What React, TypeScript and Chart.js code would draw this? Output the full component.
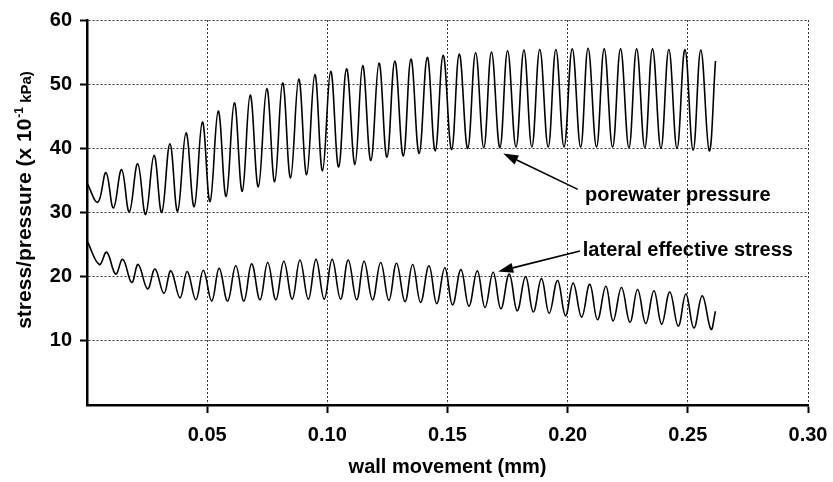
import React, { useEffect, useRef } from "react";
import { Chart, registerables } from "chart.js";

Chart.register(...registerables);

// wall movement (mm) at each turning point of the porewater pressure trace
const porewaterX = [
  0.0, 0.0045, 0.0079, 0.011, 0.0144, 0.0176, 0.0211, 0.0244, 0.0279, 0.0311,
  0.0345, 0.0377, 0.0412, 0.0446, 0.048, 0.0512, 0.0546, 0.0579, 0.0613, 0.0646,
  0.0679, 0.0713, 0.0748, 0.0781, 0.0814, 0.0847, 0.0881, 0.0914, 0.0948, 0.098,
  0.1014, 0.1047, 0.108, 0.1115, 0.1147, 0.1181, 0.1215, 0.1248, 0.1281, 0.1316,
  0.1348, 0.1382, 0.1416, 0.1449, 0.1482, 0.1517, 0.1549, 0.1584, 0.1617, 0.1651,
  0.1683, 0.1718, 0.175, 0.1785, 0.1818, 0.1851, 0.1884, 0.1919, 0.1951, 0.1985,
  0.2019, 0.2054, 0.2085, 0.212, 0.2152, 0.2187, 0.222, 0.2255, 0.2287, 0.2321,
  0.2353, 0.2388, 0.2421, 0.2455, 0.2488, 0.2522, 0.2554, 0.2589, 0.2615,
];
// porewater pressure (x 10^-1 kPa) at those points
const porewaterY = [
  34.6, 31.6, 36.2, 30.7, 36.7, 30.1, 37.6, 29.7, 38.9, 30.0,
  40.7, 30.2, 42.4, 30.9, 44.1, 31.7, 45.8, 32.5, 47.1, 33.3,
  48.3, 34.0, 49.3, 34.8, 50.2, 35.4, 50.8, 35.9, 51.5, 36.5,
  52.0, 37.1, 52.4, 37.5, 52.9, 38.1, 53.3, 38.6, 53.6, 38.8,
  53.9, 39.2, 54.2, 39.6, 54.5, 39.8, 54.7, 40.0, 54.9, 40.1,
  55.0, 40.1, 55.2, 40.2, 55.3, 40.2, 55.4, 40.2, 55.4, 40.2,
  55.5, 40.2, 55.6, 40.2, 55.5, 40.2, 55.5, 40.1, 55.5, 40.1,
  55.5, 40.0, 55.4, 40.0, 55.4, 39.7, 55.3, 39.6, 53.6,
];

// wall movement (mm) at each turning point of the lateral effective stress trace
const lateralX = [
  0.0, 0.0051, 0.0082, 0.0119, 0.0149, 0.0186, 0.0213, 0.0252, 0.0283, 0.032,
  0.0349, 0.0387, 0.0417, 0.0453, 0.0484, 0.0519, 0.055, 0.0585, 0.0619, 0.0653,
  0.0685, 0.072, 0.0752, 0.0786, 0.0819, 0.0854, 0.0886, 0.0921, 0.0953, 0.0987,
  0.102, 0.1055, 0.1087, 0.1122, 0.1153, 0.1188, 0.1222, 0.1256, 0.1288, 0.1323,
  0.1355, 0.1388, 0.1423, 0.1455, 0.1489, 0.1521, 0.1556, 0.1589, 0.1624, 0.1656,
  0.169, 0.1722, 0.1757, 0.179, 0.1825, 0.1857, 0.1891, 0.1923, 0.1958, 0.1991,
  0.2023, 0.2058, 0.2092, 0.2124, 0.2159, 0.2189, 0.2224, 0.2259, 0.2291, 0.2325,
  0.2359, 0.2391, 0.2425, 0.246, 0.2492, 0.2525, 0.256, 0.2596, 0.2615,
];
// lateral effective stress (x 10^-1 kPa) at those points
const lateralY = [
  25.6, 21.9, 23.8, 20.4, 22.7, 19.1, 21.9, 18.1, 21.2, 17.4,
  20.9, 16.7, 20.8, 16.4, 21.0, 16.2, 21.3, 16.2, 21.7, 16.2,
  22.0, 16.4, 22.2, 16.4, 22.4, 16.5, 22.6, 16.5, 22.7, 16.5,
  22.7, 16.5, 22.6, 16.4, 22.4, 16.4, 22.2, 16.3, 22.1, 16.1,
  21.9, 16.0, 21.7, 15.8, 21.4, 15.6, 21.1, 15.4, 20.9, 15.2,
  20.7, 15.0, 20.4, 14.7, 20.0, 14.5, 19.7, 14.3, 19.4, 13.9,
  19.0, 13.7, 18.8, 13.3, 18.5, 13.1, 18.3, 12.9, 18.0, 12.7,
  17.8, 12.6, 17.6, 12.3, 17.3, 12.0, 17.0, 11.8, 14.6,
];

const xTickValues = [0.05, 0.1, 0.15, 0.2, 0.25, 0.3];
const yTickValues = [10, 20, 30, 40, 50, 60];

const xTitle = "wall movement (mm)";
const yTitleMain = "stress/pressure (x 10";
const yTitleSup = "-1";
const yTitleUnit = " kPa)";

const annotationLabels = ["porewater pressure", "lateral effective stress"];
// arrow tip, arrow tail and label anchor in data units
const annotationTips = [
  [0.1732, 39.2],
  [0.1711, 20.8],
];
const annotationTails = [
  [0.2042, 33.6],
  [0.2051, 24.0],
];
const annotationText = [
  [0.2072, 32.6],
  [0.2063, 24.1],
];

const FONT = '"Liberation Sans", Arial, Helvetica, sans-serif';

export default function App() {
  const ref = useRef<HTMLCanvasElement>(null);

  useEffect(() => {
    document.body.style.margin = "0";
    const canvas = ref.current;
    if (!canvas) return;

    const drawArrow = (
      ctx: CanvasRenderingContext2D,
      x1: number,
      y1: number,
      x2: number,
      y2: number
    ) => {
      const ang = Math.atan2(y2 - y1, x2 - x1);
      const headLen = 15;
      const headHalf = 5;
      const bx = x2 - headLen * Math.cos(ang);
      const by = y2 - headLen * Math.sin(ang);
      ctx.beginPath();
      ctx.moveTo(x1, y1);
      ctx.lineTo(bx, by);
      ctx.lineWidth = 1.6;
      ctx.strokeStyle = "#000";
      ctx.stroke();
      ctx.beginPath();
      ctx.moveTo(x2, y2);
      ctx.lineTo(bx + headHalf * Math.sin(ang), by - headHalf * Math.cos(ang));
      ctx.lineTo(bx - headHalf * Math.sin(ang), by + headHalf * Math.cos(ang));
      ctx.closePath();
      ctx.fillStyle = "#000";
      ctx.fill();
    };

    const annot = {
      id: "annot",
      afterDraw(chart: any) {
        const { ctx, scales, chartArea } = chart;
        const xs = scales.x;
        const ys = scales.y;
        ctx.save();
        for (let i = 0; i < annotationLabels.length; i++) {
          drawArrow(
            ctx,
            xs.getPixelForValue(annotationTails[i][0]),
            ys.getPixelForValue(annotationTails[i][1]),
            xs.getPixelForValue(annotationTips[i][0]),
            ys.getPixelForValue(annotationTips[i][1])
          );
          ctx.font = `bold 20px ${FONT}`;
          ctx.fillStyle = "#000";
          ctx.textAlign = "left";
          ctx.textBaseline = "middle";
          ctx.fillText(
            annotationLabels[i],
            xs.getPixelForValue(annotationText[i][0]),
            ys.getPixelForValue(annotationText[i][1])
          );
        }
        // x title
        ctx.font = `bold 20px ${FONT}`;
        ctx.textAlign = "center";
        ctx.textBaseline = "middle";
        ctx.fillText(xTitle, (chartArea.left + chartArea.right) / 2, 467);
        // y title (rotated, mixed sizes)
        const fMain = `bold 21px ${FONT}`;
        const fSup = `bold 12px ${FONT}`;
        const fUnit = `bold 15px ${FONT}`;
        ctx.font = fMain;
        const w1 = ctx.measureText(yTitleMain).width;
        ctx.font = fSup;
        const w2 = ctx.measureText(yTitleSup).width + 1;
        ctx.font = fUnit;
        const w3 = ctx.measureText(yTitleUnit).width;
        const total = w1 + w2 + w3;
        ctx.translate(31, 200);
        ctx.rotate(-Math.PI / 2);
        ctx.textAlign = "left";
        ctx.textBaseline = "alphabetic";
        let x0 = -total / 2;
        ctx.font = fMain;
        ctx.fillText(yTitleMain, x0, 0);
        x0 += w1;
        ctx.font = fSup;
        ctx.fillText(yTitleSup, x0 + 1, -8);
        x0 += w2;
        ctx.font = fUnit;
        ctx.fillText(yTitleUnit, x0, 0);
        ctx.restore();
      },
    };

    const chart = new Chart(canvas, {
      type: "line",
      data: {
        datasets: [
          {
            label: "porewater pressure",
            data: porewaterX.map((x, i) => ({ x, y: porewaterY[i] })),
            borderColor: "#000",
            borderWidth: 1.6,
            pointRadius: 0,
            fill: false,
            tension: 0.4,
          },
          {
            label: "lateral effective stress",
            data: lateralX.map((x, i) => ({ x, y: lateralY[i] })),
            borderColor: "#000",
            borderWidth: 1.6,
            pointRadius: 0,
            fill: false,
            tension: 0.4,
          },
        ],
      },
      options: {
        responsive: false,
        animation: false,
        layout: { padding: { top: 20, right: 25, left: 0, bottom: 0 } },
        plugins: {
          legend: { display: false },
          tooltip: { enabled: false },
          title: { display: false },
        },
        scales: {
          x: {
            type: "linear",
            min: 0,
            max: 0.3,
            afterBuildTicks: (s: any) => {
              s.ticks = xTickValues.map((v) => ({ value: v }));
            },
            afterFit: (s: any) => {
              s.height = 77;
              s.paddingLeft = 0;
              s.paddingRight = 0;
            },
            ticks: {
              autoSkip: false,
              maxRotation: 0,
              padding: 10,
              color: "#000",
              font: { family: FONT, size: 20, weight: "bold" },
              callback: (v: any) => Number(v).toFixed(2),
            },
            grid: {
              color: "#333",
              lineWidth: 1,
              tickLength: 8,
              tickColor: "#000",
              tickWidth: 2,
              tickBorderDash: [],
            },
            border: { display: true, color: "#000", width: 2.5, dash: [2, 2] },
          },
          y: {
            type: "linear",
            min: 0,
            max: 60,
            afterBuildTicks: (s: any) => {
              s.ticks = yTickValues.map((v) => ({ value: v }));
            },
            afterFit: (s: any) => {
              s.width = 87;
              s.paddingTop = 0;
              s.paddingBottom = 0;
            },
            ticks: {
              autoSkip: false,
              padding: 8,
              color: "#000",
              font: { family: FONT, size: 20, weight: "bold" },
              callback: (v: any) => String(v),
            },
            grid: {
              color: "#333",
              lineWidth: 1,
              tickLength: 7,
              tickColor: "#000",
              tickWidth: 2,
              tickBorderDash: [],
            },
            border: { display: true, color: "#000", width: 2.5, dash: [2, 2] },
          },
        },
      } as any,
      plugins: [annot],
    });

    return () => chart.destroy();
  }, []);

  return (
    <div
      style={{
        position: "fixed",
        left: 0,
        top: 0,
        width: 833,
        height: 482,
        background: "#fff",
      }}
    >
      <canvas ref={ref} width={833} height={482} style={{ display: "block" }} />
    </div>
  );
}
